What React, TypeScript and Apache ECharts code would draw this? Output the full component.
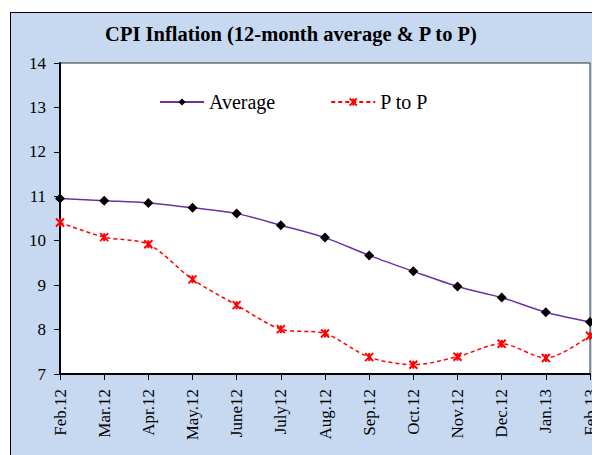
import React, { useEffect, useRef } from "react";
import * as echarts from "echarts";

const months = ["Feb.12", "Mar.12", "Apr.12", "May.12", "June12", "July12", "Aug.12", "Sep.12", "Oct.12", "Nov.12", "Dec.12", "Jan.13", "Feb.13"];
const averageValues = [10.95, 10.9, 10.85, 10.74, 10.61, 10.35, 10.07, 9.67, 9.31, 8.97, 8.72, 8.39, 8.17];
const pToPValues = [10.41, 10.08, 9.92, 9.13, 8.55, 8.01, 7.91, 7.38, 7.21, 7.39, 7.68, 7.36, 7.86];
const titleText = "CPI Inflation (12-month average & P to P)";

const FONT = "'Liberation Serif', 'Times New Roman', serif";
const STAR = "path://M0 0 L10 10 M10 0 L0 10 M5 0 L5 10";

export default function App() {
  const ref = useRef<HTMLDivElement>(null);
  useEffect(() => {
    if (!ref.current) return;
    const chart = echarts.init(ref.current, null, { renderer: "svg" });
    chart.setOption({
      animation: false,
      backgroundColor: "transparent",
      textStyle: { fontFamily: FONT },
      graphic: [
        {
          type: "text",
          x: 291,
          y: 34,
          style: {
            text: titleText,
            fontFamily: FONT,
            fontWeight: "bold",
            fontSize: 20.5,
            fill: "#000",
            textAlign: "center",
            textVerticalAlign: "middle",
          },
        },
      ],
      legend: {
        left: 154,
        top: 87,
        itemWidth: 44,
        itemHeight: 9,
        itemGap: 55,
        textStyle: { fontFamily: FONT, fontSize: 20, color: "#000" },
        data: ["Average", "P to P"],
      },
      grid: {
        left: 60,
        top: 63,
        right: 2,
        bottom: 81,
        outerBoundsMode: "none",
        containLabel: false,
        show: true,
        backgroundColor: "#fff",
        borderColor: "#333",
        borderWidth: 1,
      },
      xAxis: {
        type: "category",
        data: months,
        boundaryGap: false,
        axisLine: { lineStyle: { color: "#000", width: 2 } },
        axisTick: { show: true, length: 6, alignWithLabel: true, lineStyle: { color: "#000", width: 1 } },
        axisLabel: {
          rotate: 90,
          interval: 0,
          margin: 15,
          fontFamily: FONT,
          fontSize: 17,
          color: "#000",
        },
        splitLine: { show: false },
      },
      yAxis: {
        type: "value",
        min: 7,
        max: 14,
        interval: 1,
        axisLine: { show: true, lineStyle: { color: "#000", width: 2 } },
        axisTick: { show: true, length: 6, lineStyle: { color: "#000", width: 1 } },
        axisLabel: { margin: 14, fontFamily: FONT, fontSize: 17, color: "#000" },
        splitLine: { show: false },
      },
      series: [
        {
          name: "Average",
          type: "line",
          data: averageValues,
          smooth: 0.3,
          symbol: "diamond",
          symbolSize: 10,
          itemStyle: { color: "#000" },
          lineStyle: { color: "#7030a0", width: 1.5 },
          z: 3,
        },
        {
          name: "P to P",
          type: "line",
          data: pToPValues,
          smooth: 0.3,
          symbol: STAR,
          symbolSize: 8,
          itemStyle: { color: "#ff0000", borderColor: "#ff0000", borderWidth: 2 },
          lineStyle: { color: "#ff0000", width: 1.5, type: [4, 3] },
          z: 2,
        },
      ],
    });
    return () => chart.dispose();
  }, []);

  return (
    <div style={{ position: "fixed", left: 0, top: 0, width: 592, height: 455, background: "#fff", overflow: "hidden" }}>
      <div
        style={{
          position: "absolute",
          left: 10,
          top: 12,
          width: 620,
          height: 480,
          background: "#c6d9f1",
          border: "1px solid #000",
          boxSizing: "border-box",
        }}
      />
      <div ref={ref} style={{ position: "absolute", left: 0, top: 0, width: 592, height: 455 }} />
    </div>
  );
}
